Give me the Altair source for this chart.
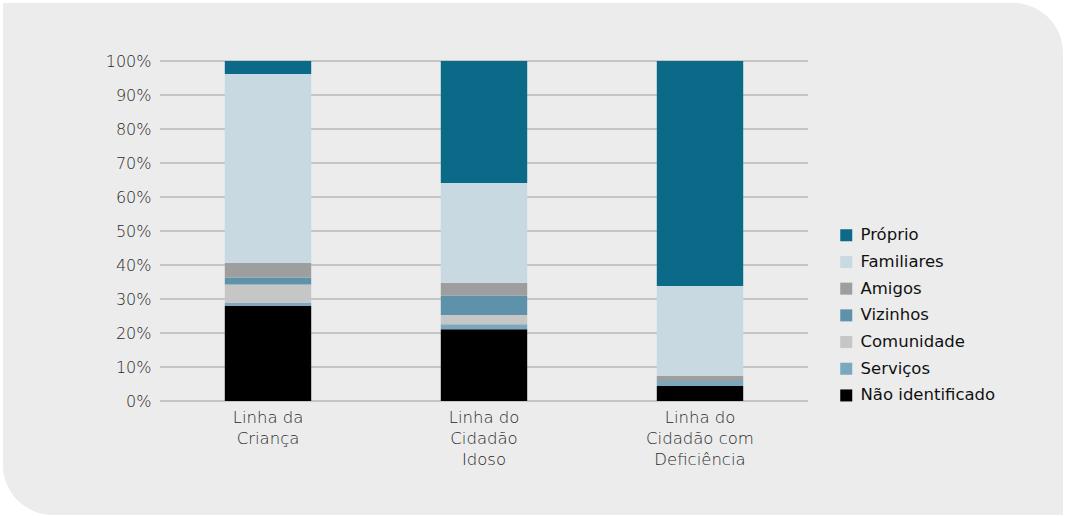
import altair as alt
import pandas as pd

categories = ["Linha da|Criança", "Linha do|Cidadão|Idoso", "Linha do|Cidadão com|Deficiência"]
series = ["Não identificado", "Serviços", "Comunidade", "Vizinhos", "Amigos", "Familiares", "Próprio"]
legend_order = ["Próprio", "Familiares", "Amigos", "Vizinhos", "Comunidade", "Serviços", "Não identificado"]
colors = {"Próprio": "#0B6A88", "Familiares": "#C8D9E2", "Amigos": "#9E9E9E", "Vizinhos": "#5E91AA",
          "Comunidade": "#C6C6C6", "Serviços": "#7AA8BE", "Não identificado": "#000000"}
y_ticks = [0.0, 0.1, 0.2, 0.3, 0.4, 0.5, 0.6, 0.7, 0.8, 0.9, 1.0]

nao_identificado = [28.0, 21.1, 4.4]
servicos = [0.9, 1.5, 1.5]
comunidade = [5.4, 2.7, 0.0]
vizinhos = [2.0, 5.7, 0.0]
amigos = [4.3, 3.8, 1.5]
familiares = [55.6, 29.3, 26.4]
proprio = [3.8, 35.9, 66.2]

values = [nao_identificado, servicos, comunidade, vizinhos, amigos, familiares, proprio]
rows = []
for si, (s, vals) in enumerate(zip(series, values)):
    for c, v in zip(categories, vals):
        rows.append({"cat": c, "serie": s, "val": v / 100.0, "idx": si})
df = pd.DataFrame(rows)
grid_df = pd.DataFrame({"t": y_ticks})

FONT = "DejaVu Sans"
yscale = alt.Scale(domain=[0, 1])
yaxis = alt.Axis(format=".0%", values=y_ticks, labelFont=FONT,
                 labelFontSize=16, labelFontWeight=300, labelColor="#2a2a2a",
                 labelPadding=9, ticks=False, domain=False, grid=False, zindex=1)

panel = alt.Chart(alt.Data(values=[{}])).mark_rect(
    color="#ECECEC", cornerRadiusTopRight=50, cornerRadiusBottomLeft=50
).encode(x=alt.value(-157), x2=alt.value(903), y=alt.value(-58), y2=alt.value(454))

grid = alt.Chart(grid_df).mark_rule(color="#9E9E9E", strokeWidth=1).encode(
    y=alt.Y("t:Q", scale=yscale, axis=yaxis, title=None), x=alt.value(0), x2=alt.value(648)
)

bars = alt.Chart(df).mark_bar().encode(
    x=alt.X("cat:N", sort=categories, title=None,
            scale=alt.Scale(paddingInner=0.6, paddingOuter=0.3),
            axis=alt.Axis(labelExpr="split(datum.label, '|')", labelAngle=0, labelFont=FONT,
                          labelFontSize=16.5, labelFontWeight=300, labelColor="#2a2a2a",
                          labelLineHeight=21, labelPadding=8, ticks=False, domain=False,
                          zindex=1)),
    y=alt.Y("val:Q", stack="zero", title=None, scale=yscale, axis=yaxis),
    color=alt.Color("serie:N", title=None,
                    scale=alt.Scale(domain=legend_order, range=[colors[s] for s in legend_order]),
                    legend=alt.Legend(orient="none", legendX=678, legendY=166, symbolType="square",
                                      symbolSize=144, symbolStrokeWidth=0, labelFont=FONT,
                                      labelFontSize=16.5, labelColor="#111111", rowPadding=9.7,
                                      labelOffset=6)),
    order=alt.Order("idx:Q", sort="ascending"),
)

chart = alt.layer(panel, grid, bars).properties(
    width=648, height=340,
    autosize=alt.AutoSizeParams(type="none"),
    padding={"left": 160, "top": 61, "right": 257, "bottom": 115},
    background="#FFFFFF",
).configure_view(stroke=None, fill=None)

chart.save("out.html", embed_options={"renderer": "svg", "actions": False})
